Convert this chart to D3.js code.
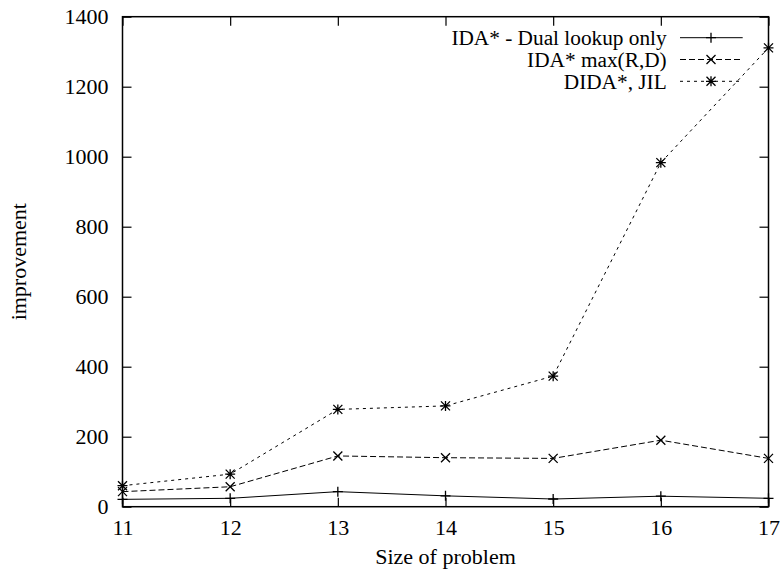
<!DOCTYPE html>
<html lang="en">
<head>
  <meta charset="utf-8">
  <title>improvement</title>
  <style>
    body { margin: 0; background: #fff; }
    svg text { font-family: "Liberation Serif", "Times New Roman", Times, serif !important; fill: #000; }
  </style>
</head>
<body>
  <div id="chart"></div>

  <script src="https://cdnjs.cloudflare.com/ajax/libs/d3/7.8.5/d3.min.js"></script>
  <script type="text/javascript">
    // problem sizes on the x axis
    const sizes = [11, 12, 13, 14, 15, 16, 17];
    // series values
    const dualLookup = [21, 24, 43, 31, 22, 30, 24];
    const maxRD = [43, 57, 145, 140, 138, 190, 138];
    const didaJil = [60, 93, 278, 288, 373, 983, 1311];
    const yTicks = [0, 200, 400, 600, 800, 1000, 1200, 1400];
    const seriesNames = ["IDA* - Dual lookup only", "IDA* max(R,D)", "DIDA*, JIL"];

    const width = 783;
    const height = 577;
    const margin = { top: 16.7, right: 14.5, bottom: 70.3, left: 122.5 };
    const fontSize = 22;
    const keyFontSize = 21.3;
    const serif = "Liberation Serif, Times New Roman, serif";

    const x = d3.scaleLinear()
      .domain([11, 17])
      .range([margin.left, width - margin.right]);
    const y = d3.scaleLinear()
      .domain([0, 1400])
      .range([height - margin.bottom, margin.top]);

    const svg = d3.select("#chart").append("svg")
      .attr("width", width)
      .attr("height", height)
      .attr("viewBox", [0, 0, width, height])
      .attr("font-family", serif);

    svg.append("rect")
      .attr("width", width)
      .attr("height", height)
      .attr("fill", "#fff");

    const tickLen = 9;

    // bottom axis + mirrored top ticks
    svg.append("g")
      .attr("transform", `translate(0,${y(0)})`)
      .call(d3.axisBottom(x).tickValues(sizes).tickSize(-tickLen).tickFormat(d3.format("d")))
      .attr("font-family", serif)
      .call(g => g.select(".domain").remove())
      .call(g => g.selectAll("text")
        .attr("font-size", fontSize)
        .attr("y", 28)
        .attr("dy", null));
    svg.append("g")
      .attr("transform", `translate(0,${y(1400)})`)
      .call(d3.axisTop(x).tickValues(sizes).tickSize(-tickLen).tickFormat(""))
      .call(g => g.select(".domain").remove());

    // left axis + mirrored right ticks
    svg.append("g")
      .attr("transform", `translate(${x(11)},0)`)
      .call(d3.axisLeft(y).tickValues(yTicks).tickSize(-tickLen).tickPadding(14).tickFormat(d3.format("d")))
      .attr("font-family", serif)
      .call(g => g.select(".domain").remove())
      .call(g => g.selectAll("text").attr("font-size", fontSize));
    svg.append("g")
      .attr("transform", `translate(${x(17)},0)`)
      .call(d3.axisRight(y).tickValues(yTicks).tickSize(-tickLen).tickFormat(""))
      .call(g => g.select(".domain").remove());

    svg.selectAll(".tick line").attr("stroke", "#000").attr("stroke-width", 1.2);

    // frame
    svg.append("rect")
      .attr("x", x(11))
      .attr("y", y(1400))
      .attr("width", x(17) - x(11))
      .attr("height", y(0) - y(1400))
      .attr("fill", "none")
      .attr("stroke", "#000")
      .attr("stroke-width", 1.5);

    // axis titles
    svg.append("text")
      .attr("x", (x(11) + x(17)) / 2)
      .attr("y", 564)
      .attr("text-anchor", "middle")
      .attr("font-size", fontSize)
      .text("Size of problem");
    svg.append("text")
      .attr("transform", `translate(26,${(y(0) + y(1400)) / 2}) rotate(-90)`)
      .attr("text-anchor", "middle")
      .attr("font-size", fontSize)
      .text("improvement");

    const plusPath = "M-5,0H5M0,-5V5";
    const crossPath = "M-4.5,-4.5L4.5,4.5M-4.5,4.5L4.5,-4.5";
    const starPath = plusPath + crossPath;

    const series = [
      { name: seriesNames[0], values: dualLookup, dash: null, marker: plusPath },
      { name: seriesNames[1], values: maxRD, dash: "6,3", marker: crossPath },
      { name: seriesNames[2], values: didaJil, dash: "3,4", marker: starPath }
    ];

    const line = d3.line()
      .x(d => x(d[0]))
      .y(d => y(d[1]));

    series.forEach((s, i) => {
      const pts = sizes.map((v, j) => [v, s.values[j]]);
      svg.append("path")
        .datum(pts)
        .attr("d", line)
        .attr("fill", "none")
        .attr("stroke", "#000")
        .attr("stroke-width", 1)
        .attr("stroke-dasharray", s.dash);
      svg.selectAll(null)
        .data(pts)
        .enter()
        .append("path")
        .attr("transform", d => `translate(${x(d[0])},${y(d[1])})`)
        .attr("d", s.marker)
        .attr("fill", "none")
        .attr("stroke", "#000")
        .attr("stroke-width", 1.3);

      // legend row
      const ly = 37.7 + i * 21.8;
      svg.append("text")
        .attr("x", 666.7)
        .attr("y", ly + 7.3)
        .attr("text-anchor", "end")
        .attr("font-size", keyFontSize)
        .text(s.name);
      svg.append("line")
        .attr("x1", 680).attr("x2", 742.7)
        .attr("y1", ly).attr("y2", ly)
        .attr("stroke", "#000")
        .attr("stroke-width", 1)
        .attr("stroke-dasharray", s.dash);
      svg.append("path")
        .attr("transform", `translate(711,${ly})`)
        .attr("d", s.marker)
        .attr("fill", "none")
        .attr("stroke", "#000")
        .attr("stroke-width", 1.3);
    });
  </script>
</body>
</html>
